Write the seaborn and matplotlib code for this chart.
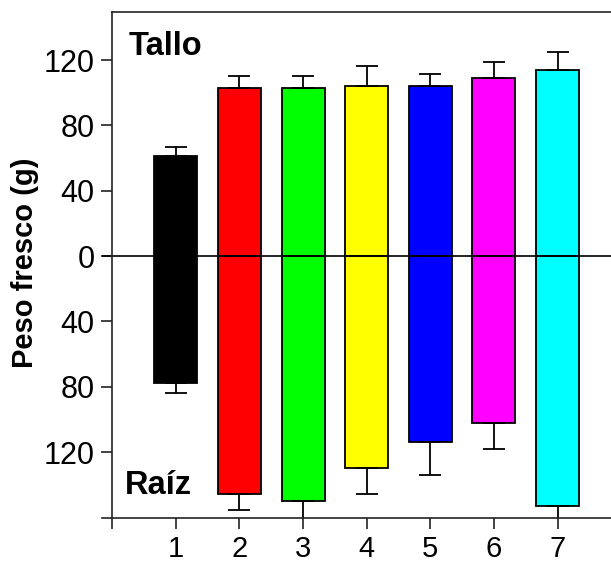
import numpy as np
import pandas as pd
import matplotlib
matplotlib.use("Agg")
import matplotlib.pyplot as plt
import seaborn as sns

# --- Data ---
positions = [1, 2, 3, 4, 5, 6, 7]
labels = ["1", "2", "3", "4", "5", "6", "7"]
colors = ["#000000", "#FF0000", "#00FF00", "#FFFF00", "#0000FF", "#FF00FF", "#00FFFF"]

tallo = [61, 103, 103, 104, 104, 109, 114]       # stem fresh weight (g)
tallo_err = [6, 7, 7, 12.5, 7.5, 10, 11]
raiz = [78, 146, 150, 130, 114, 102, 153]        # root fresh weight (g), drawn downward
raiz_err = [5.7, 9.6, 12, 16, 20, 16, 12]

yticks = [120, 80, 40, 0, -40, -80, -120]
ytick_labels = ["120", "80", "40", "0", "40", "80", "120"]

df = pd.DataFrame({"pos": positions, "label": labels,
                   "tallo": tallo, "raiz": [-v for v in raiz]})
palette = dict(zip(labels, colors))

# --- Style ---
sns.set_theme(style="white")
plt.rcParams["font.family"] = ["Liberation Sans", "DejaVu Sans"]
plt.rcParams["text.color"] = "black"

fig = plt.figure(figsize=(6.11, 5.64), dpi=100)
ax = fig.add_axes([0.1669, 0.081, 0.8331, 0.8983])

for col in ["tallo", "raiz"]:
    sns.barplot(data=df, x="pos", y=col, hue="label", palette=palette,
                native_scale=True, width=0.675, saturation=1,
                edgecolor="black", linewidth=1.3, errorbar=None,
                legend=False, ax=ax)

zeros = np.zeros(len(positions))
ax.errorbar(positions, tallo, yerr=[zeros, tallo_err], fmt="none",
            ecolor="black", elinewidth=1.3, capsize=8, capthick=1.3)
ax.errorbar(positions, df["raiz"], yerr=[raiz_err, zeros], fmt="none",
            ecolor="black", elinewidth=1.3, capsize=8, capthick=1.3)

ax.axhline(0, color="black", lw=1.2, zorder=1)

ax.set_xlim(-0.16, 7.84)
ax.set_ylim(-160.6, 149.6)

# frame: left spine sits at x=0, top spine starts there, no right spine
ax.spines["left"].set_position(("data", 0))
ax.spines["right"].set_visible(False)
ax.spines["top"].set_bounds(0, 7.84)
for s in ["left", "top", "bottom"]:
    ax.spines[s].set_color("#222222")
    ax.spines[s].set_linewidth(1.2)

ax.set_xticks(range(0, 8))
ax.set_xticklabels([""] + labels)
ax.set_yticks(yticks)
ax.set_yticklabels(ytick_labels)
ax.tick_params(axis="both", direction="out", length=8, width=1.2,
               color="#222222", labelsize=22, labelcolor="black")
ax.tick_params(axis="y", pad=4.5, left=True)
ax.tick_params(axis="x", pad=4, labelsize=21, bottom=True)
ax.set_xlabel("")
ax.set_ylabel("")

ax.text(0.26, 123, "Tallo", fontsize=23.5, fontweight="bold", ha="left", va="baseline")
ax.text(0.2, -146, "Raíz", fontsize=23.5, fontweight="bold", ha="left", va="baseline")

fig.text(25 / 611, (564 - 263) / 564, "Peso fresco (g)", rotation=90,
         ha="center", va="center", fontsize=21, fontweight="bold")

fig.savefig("out.png", dpi=100)
plt.close(fig)
